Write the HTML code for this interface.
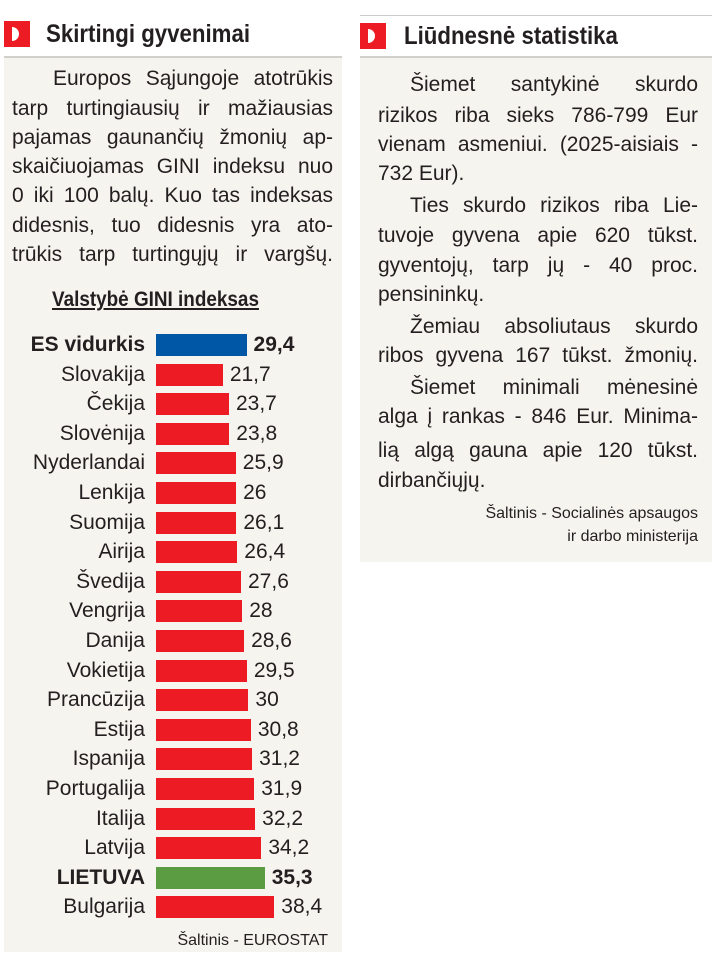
<!DOCTYPE html>
<html><head><meta charset="utf-8"><style>
body{margin:0;width:714px;height:956px;background:#fff;position:relative;overflow:hidden;font-family:"Liberation Sans",sans-serif;color:#231f20}
.abs{position:absolute}
.panel{position:absolute;background:#f5f4ee}
.sq{position:absolute;width:26px;height:26px;background:#ed1c24}
.sq:after{content:"";position:absolute;left:8px;top:6px;width:7px;height:14px;background:#fff;border-radius:0 7px 7px 0}
.title{position:absolute;font-size:25px;font-weight:bold;transform:scaleX(0.89);transform-origin:left;white-space:nowrap;line-height:30px}
.ln{position:absolute;font-size:21px;line-height:24px;text-align:justify;text-align-last:justify;white-space:nowrap}
.lbl{position:absolute;right:569px;font-size:21px;line-height:22px;text-align:right;white-space:nowrap}
.bar{position:absolute;left:156px;height:22px}
.val{position:absolute;font-size:21px;line-height:22px;white-space:nowrap}
.src{position:absolute;font-size:16px;line-height:20px;text-align:right;white-space:nowrap}
</style></head><body>
<div class="abs" style="left:360px;top:15px;width:352px;height:1px;background:#ccc"></div>
<div class="panel" style="left:4px;top:56px;width:338px;height:894px;border-top:2px solid #d0d0cc"></div>
<div class="panel" style="left:360px;top:56px;width:352px;height:504px;border-top:2px solid #d0d0cc"></div>
<div class="sq" style="left:4px;top:21px"></div>
<div class="title" style="left:46px;top:19px">Skirtingi gyvenimai</div>
<div class="sq" style="left:360px;top:23px"></div>
<div class="title" style="left:404px;top:21px">Liūdnesnė statistika</div>

<div class="ln" style="left:53px;width:280px;top:67px">Europos Sąjungoje atotrūkis</div>
<div class="ln" style="left:12px;width:321px;top:97px">tarp turtingiausių ir mažiausias</div>
<div class="ln" style="left:12px;width:321px;top:126px">pajamas gaunančių žmonių ap-</div>
<div class="ln" style="left:12px;width:321px;top:155px">skaičiuojamas GINI indeksu nuo</div>
<div class="ln" style="left:12px;width:321px;top:184px">0 iki 100 balų. Kuo tas indeksas</div>
<div class="ln" style="left:12px;width:321px;top:214px">didesnis, tuo didesnis yra ato-</div>
<div class="ln" style="left:12px;width:321px;top:243px">trūkis tarp turtingųjų ir vargšų.</div>
<div class="abs" style="left:52px;top:288px;font-size:21px;font-weight:bold;line-height:24px;text-decoration:underline;transform:scaleX(0.9);transform-origin:left;white-space:nowrap">Valstybė GINI indeksas</div>

<div class="ln" style="left:410px;width:288px;top:73px">Šiemet santykinė skurdo</div>
<div class="ln" style="left:378px;width:320px;top:104px">rizikos riba sieks 786-799 Eur</div>
<div class="ln" style="left:378px;width:320px;top:133px">vienam asmeniui. (2025-aisiais -</div>
<div class="ln" style="left:378px;top:162px;text-align-last:left">732 Eur).</div>
<div class="ln" style="left:410px;width:288px;top:194px">Ties skurdo rizikos riba Lie-</div>
<div class="ln" style="left:378px;width:320px;top:224px">tuvoje gyvena apie 620 tūkst.</div>
<div class="ln" style="left:378px;width:320px;top:254px">gyventojų, tarp jų - 40 proc.</div>
<div class="ln" style="left:378px;top:283px;text-align-last:left">pensininkų.</div>
<div class="ln" style="left:410px;width:288px;top:315px">Žemiau absoliutaus skurdo</div>
<div class="ln" style="left:378px;width:320px;top:344px">ribos gyvena 167 tūkst. žmonių.</div>
<div class="ln" style="left:410px;width:288px;top:376px">Šiemet minimali mėnesinė</div>
<div class="ln" style="left:378px;width:320px;top:405px">alga į rankas - 846 Eur. Minima-</div>
<div class="ln" style="left:378px;width:320px;top:439px">lią algą gauna apie 120 tūkst.</div>
<div class="ln" style="left:378px;top:469px;text-align-last:left">dirbančiųjų.</div>
<div class="src" style="right:16px;top:504px">Šaltinis - Socialinės apsaugos</div>
<div class="src" style="right:16px;top:527px">ir darbo ministerija</div>

<div id="bars"></div>
<div class="src" style="right:386px;top:931px">Šaltinis - EUROSTAT</div>
<script>
var d=[["ES vidurkis",29.4,"#0057a6",1],["Slovakija",21.7],["Čekija",23.7],["Slovėnija",23.8],["Nyderlandai",25.9],["Lenkija",26],["Suomija",26.1],["Airija",26.4],["Švedija",27.6],["Vengrija",28],["Danija",28.6],["Vokietija",29.5],["Prancūzija",30],["Estija",30.8],["Ispanija",31.2],["Portugalija",31.9],["Italija",32.2],["Latvija",34.2],["LIETUVA",35.3,"#5b9c42",1],["Bulgarija",38.4]];
var h="";
d.forEach(function(r,i){var t=334+i*29.6,w=r[1]*3.08,b=r[3]?"font-weight:bold;":"";
h+='<div class="lbl" style="top:'+t+'px;'+b+'">'+r[0]+'</div>';
h+='<div class="bar" style="top:'+t+'px;width:'+w+'px;background:'+(r[2]||"#ed1c24")+'"></div>';
h+='<div class="val" style="top:'+t+'px;left:'+(156+w+7)+'px;'+b+'">'+String(r[1]).replace(".",",")+'</div>';});
document.getElementById("bars").innerHTML=h;
</script>
</body></html>
